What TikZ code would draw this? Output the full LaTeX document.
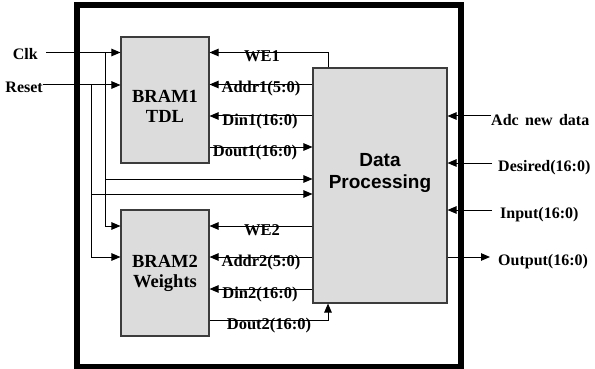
\documentclass[tikz,border=0pt]{standalone}
\usepackage{fontspec}
\setmainfont{Liberation Serif}
\newfontfamily\dpfont{Liberation Sans}
\usetikzlibrary{arrows.meta}
\definecolor{blockfill}{RGB}{220,220,220}
\definecolor{blockline}{RGB}{60,60,60}
\tikzset{
  block/.style={draw=blockline, fill=blockfill, line width=1.1pt, inner sep=0pt},
  arr/.style={line width=1pt, -{Triangle[length=9pt,width=7.5pt]}},
  wire/.style={line width=1pt},
  pinlab/.style={font=\fontsize{16.5}{18}\selectfont\bfseries, inner sep=0pt, anchor=base},
  iolab/.style={font=\fontsize{16}{18}\selectfont\bfseries, inner sep=0pt},
  blab/.style={font=\fontsize{18.5}{20}\selectfont\bfseries, inner sep=0pt, align=center},
}
\begin{document}
\begin{tikzpicture}[x=1pt, y=-1pt]
\useasboundingbox (0,0) rectangle (595,369);
% outer frame
\node[draw, line width=6pt, minimum width=384pt, minimum height=361pt, inner sep=0pt] (frame) at (268.5,186) {};
% blocks
\node[block, minimum width=88pt, minimum height=126pt] (bram1) at (165,100) {};
\node[block, minimum width=88pt, minimum height=126pt] (bram2) at (165,273) {};
\node[block, minimum width=134pt, minimum height=235pt] (dp) at (380,185.5) {};
\node[blab] (t1) at (165,106) {BRAM1\\TDL};
\node[blab] (t2) at (165,273) {BRAM2\\Weights};
\node[font=\dpfont\fontsize{19}{22}\selectfont\bfseries, inner sep=0pt, align=center] (t3) at (380,173) {Data\\Processing};
% level coordinates
\coordinate (yWEa) at (0,52.5);
\coordinate (yAa) at (0,84.5);
\coordinate (yDa) at (0,116);
\coordinate (yOa) at (0,147);
\coordinate (yCk) at (0,179);
\coordinate (yRs) at (0,194);
\coordinate (yWEb) at (0,226);
\coordinate (yAb) at (0,257);
\coordinate (yDb) at (0,289);
\coordinate (yOb) at (0,320);
\coordinate (xWE) at (328,0);
% left inputs
\node[iolab, anchor=base east] (clk) at (38,60) {Clk};
\node[iolab, anchor=base east] (rst) at (43,93) {Reset};
\coordinate (clkS) at (46,52.5);
\coordinate (rstS) at (43,85);
\coordinate (clkJ) at (105,52.5);
\coordinate (rstJ) at (91,85);
\draw[arr] (clkS) -- (bram1.west |- clkS);
\draw[arr] (rstS) -- (bram1.west |- rstS);
\draw[arr] (clkJ) |- (bram2.west |- yWEb);
\draw[arr] (rstJ) |- (bram2.west |- yAb);
\draw[arr] (clkJ |- yCk) -- (dp.west |- yCk);
\draw[arr] (rstJ |- yRs) -- (dp.west |- yRs);
% BRAM1 pins
\draw[arr] (dp.north -| xWE) |- (bram1.east |- yWEa);
\draw[arr] (dp.west |- yAa) -- (bram1.east |- yAa);
\draw[arr] (dp.west |- yDa) -- (bram1.east |- yDa);
\draw[arr] (bram1.east |- yOa) -- (dp.west |- yOa);
\node[pinlab] (we1) at (262,62) {WE1};
\node[pinlab] (ad1) at (261,93) {Addr1(5:0)};
\node[pinlab] (di1) at (260,125) {Din1(16:0)};
\node[pinlab] (do1) at (255,156) {Dout1(16:0)};
% BRAM2 pins
\draw[arr] (dp.west |- yWEb) -- (bram2.east |- yWEb);
\draw[arr] (dp.west |- yAb) -- (bram2.east |- yAb);
\draw[arr] (dp.west |- yDb) -- (bram2.east |- yDb);
\draw[arr] (bram2.east |- yOb) -| (dp.south -| xWE);
\node[pinlab] (we2) at (262,235) {WE2};
\node[pinlab] (ad2) at (261,266) {Addr2(5:0)};
\node[pinlab] (di2) at (260,298) {Din2(16:0)};
\node[pinlab] (do2) at (269,329) {Dout2(16:0)};
% right side
\node[iolab, anchor=base west] (adc) at (491,125) {Adc\hspace{0.4em}new\hspace{0.4em}data};
\node[iolab, anchor=base west] (des) at (498,171) {Desired(16:0)};
\node[iolab, anchor=base west] (inp) at (500,218) {Input(16:0)};
\node[iolab, anchor=base west] (outp) at (498,265) {Output(16:0)};
\coordinate (adcS) at (491,116);
\coordinate (desS) at (492,163);
\coordinate (inS) at (492,210);
\coordinate (outE) at (490,257);
\draw[arr] (adcS) -- (dp.east |- adcS);
\draw[arr] (desS) -- (dp.east |- desS);
\draw[arr] (inS) -- (dp.east |- inS);
\draw[arr] (dp.east |- outE) -- (outE);
\end{tikzpicture}
\end{document}
